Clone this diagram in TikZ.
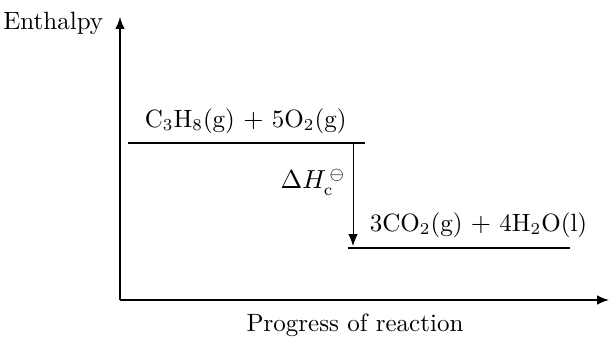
\documentclass[tikz,border=0pt]{standalone}
\usepackage{amsmath}
\usetikzlibrary{arrows.meta,positioning}
\begin{document}
\begin{tikzpicture}[
    x=0.42pt, y=-0.42pt,
    axis/.style={-{Latex[length=5pt,width=4pt]}, semithick},
    level/.style={thick},
    change/.style={-{Latex[length=5pt,width=4pt]}},
    lbl/.style={font=\fontsize{10.5}{12}\selectfont, inner sep=1pt}
  ]
  \useasboundingbox (0,0) rectangle (609,339);
  % axes
  \coordinate (origin) at (120,300);
  \coordinate (ytop) at (120,17);
  \coordinate (xend) at (609,300);
  \draw[axis] (origin) -- (ytop);
  \draw[axis] (origin) -- (xend);
  \node[lbl, anchor=base east] (enth) at (106,29) {Enthalpy};
  \node[lbl, anchor=base] (prog) at (355,331) {Progress of reaction};
  % energy levels
  \coordinate (react1) at (128,143);
  \coordinate (react2) at (365,143);
  \coordinate (prod1) at (348,248);
  \coordinate (prod2) at (570,248);
  \draw[level] (react1) -- (react2);
  \draw[level] (prod1) -- (prod2);
  \node[lbl, anchor=base west] (react) at (142,127) {C$_3$H$_8$(g) $+$ 5O$_2$(g)};
  \node[lbl, anchor=base west] (prod) at (367,231) {3CO$_2$(g) $+$ 4H$_2$O(l)};
  % enthalpy change
  \coordinate (dtop) at (353,143);
  \coordinate (dbot) at (353,246);
  \draw[change] (dtop) -- node[lbl, left=2pt, pos=0.38] (dh) {$\Delta H_{\mathrm{c}}^{\,\ominus}$} (dbot);
\end{tikzpicture}
\end{document}
